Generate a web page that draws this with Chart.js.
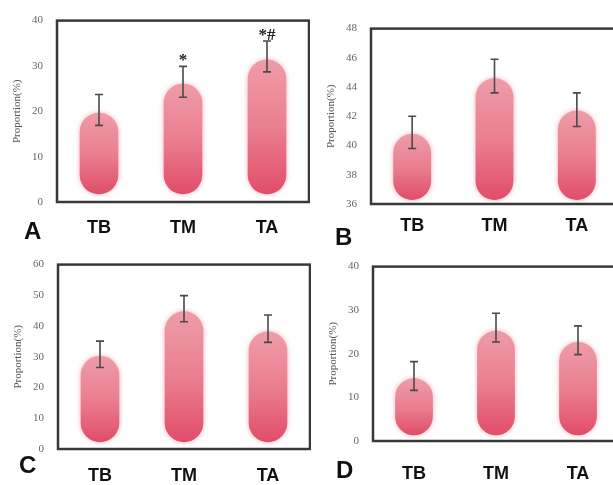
<!DOCTYPE html>
<html>
<head>
<meta charset="utf-8">
<script src="https://cdn.jsdelivr.net/npm/chart.js@4.4.0/dist/chart.umd.min.js"></script>
<style>
  html, body { margin: 0; padding: 0; background: #fff; overflow: hidden; width: 613px; height: 485px; position: relative; }
  canvas { position: absolute; }
  .tag { position: absolute; font: bold 24px "Liberation Sans", Arial, sans-serif; color: #111; line-height: 1; }
</style>
</head>
<body>
<canvas id="chartA" width="310" height="242" style="left:0px;top:0px"></canvas>
<canvas id="chartB" width="305" height="236" style="left:314px;top:8px"></canvas>
<canvas id="chartC" width="310" height="245" style="left:1px;top:244px"></canvas>
<canvas id="chartD" width="304" height="235" style="left:316px;top:246px"></canvas>
<div class="tag" style="left:24px;top:219px">A</div>
<div class="tag" style="left:335px;top:225px">B</div>
<div class="tag" style="left:19px;top:453px">C</div>
<div class="tag" style="left:336px;top:458px">D</div>
<script>
// categories shared by all four panels
const groups = ['TB', 'TM', 'TA'];

// panel A
const aValues = [19.7, 26.1, 31.4];
const aLow = [16.9, 23.1, 28.7];
const aHigh = [23.7, 29.9, 35.5];
const aMarks = ['', '*', '*#'];
const aTicks = [0, 10, 20, 30, 40];

// panel B
const bValues = [40.8, 44.6, 42.4];
const bLow = [39.8, 43.6, 41.3];
const bHigh = [42.0, 45.9, 43.6];
const bTicks = [36, 38, 40, 42, 44, 46, 48];

// panel C
const cValues = [30.3, 44.8, 38.2];
const cLow = [26.5, 41.4, 34.7];
const cHigh = [35.1, 49.9, 43.6];
const cTicks = [0, 10, 20, 30, 40, 50, 60];

// panel D
const dValues = [14.4, 25.3, 22.7];
const dLow = [11.6, 22.7, 19.8];
const dHigh = [18.2, 29.3, 26.4];
const dTicks = [0, 10, 20, 30, 40];

// soft pink glow around the pills
const glow = {
  id: 'glow',
  beforeDatasetDraw(chart) {
    const ctx = chart.ctx;
    ctx.save();
    ctx.shadowColor = 'rgba(240, 110, 130, 0.55)';
    ctx.shadowBlur = 5;
  },
  afterDatasetDraw(chart) {
    chart.ctx.restore();
  }
};

// error bars, significance marks and the frame
const extras = {
  id: 'extras',
  afterDatasetsDraw(chart, args, opts) {
    const ctx = chart.ctx;
    const y = chart.scales.y;
    const bars = chart.getDatasetMeta(0).data;
    ctx.save();
    ctx.strokeStyle = '#4a4a4a';
    ctx.lineWidth = 1.6;
    bars.forEach((bar, i) => {
      const top = y.getPixelForValue(opts.high[i]);
      const bot = y.getPixelForValue(opts.low[i]);
      ctx.beginPath();
      ctx.moveTo(bar.x, top); ctx.lineTo(bar.x, bot);
      ctx.moveTo(bar.x - 4, top); ctx.lineTo(bar.x + 4, top);
      ctx.moveTo(bar.x - 4, bot); ctx.lineTo(bar.x + 4, bot);
      ctx.stroke();
      if (opts.marks && opts.marks[i]) {
        ctx.fillStyle = '#222';
        ctx.font = 'bold 17px "Liberation Serif", serif';
        ctx.textAlign = 'center';
        ctx.textBaseline = 'alphabetic';
        ctx.fillText(opts.marks[i], bar.x, top - 1);
      }
    });
    const a = chart.chartArea;
    ctx.strokeStyle = '#383838';
    ctx.lineWidth = 2.5;
    ctx.strokeRect(a.left, a.top, a.right - a.left, a.bottom - a.top);
    ctx.restore();
  }
};

function pillColor(context) {
  const chart = context.chart;
  const area = chart.chartArea;
  if (!area || !chart.scales.y) return '#e8707f';
  const ds = context.dataset;
  const yTop = chart.scales.y.getPixelForValue(ds.data[context.dataIndex]);
  const yBot = chart.scales.y.getPixelForValue(ds.base);
  const g = chart.ctx.createLinearGradient(0, yTop, 0, yBot);
  g.addColorStop(0, '#ef9ca8');
  g.addColorStop(0.5, '#ea7f90');
  g.addColorStop(1, '#e14d68');
  return g;
}

function makePanel(id, values, low, high, ticks, marks, base, labelPad) {
  const ctx = document.getElementById(id).getContext('2d');
  return new Chart(ctx, {
    type: 'bar',
    data: {
      labels: groups,
      datasets: [{
        data: values,
        base: base,
        backgroundColor: pillColor,
        borderWidth: 0,
        borderRadius: 100,
        borderSkipped: false,
        barPercentage: 0.46,
        categoryPercentage: 1
      }]
    },
    options: {
      responsive: false,
      animation: false,
      layout: { padding: { top: 15, right: 1, left: 0, bottom: 0 } },
      plugins: {
        legend: { display: false },
        tooltip: { enabled: false },
        extras: { low: low, high: high, marks: marks }
      },
      scales: {
        x: {
          grid: { display: false, drawTicks: false },
          border: { display: false },
          ticks: {
            color: '#111',
            padding: labelPad,
            font: { family: '"Liberation Sans", Arial, sans-serif', size: 18, weight: 'bold' }
          },
          afterFit: s => { s.height = 40; }
        },
        y: {
          min: ticks[0],
          max: ticks[ticks.length - 1],
          afterBuildTicks: s => { s.ticks = ticks.map(v => ({ value: v })); },
          grid: { display: false, drawTicks: false },
          border: { display: false },
          ticks: {
            color: '#666',
            padding: 14,
            font: { family: '"Liberation Serif", serif', size: 11 }
          },
          title: {
            display: true,
            text: 'Proportion(%)',
            color: '#555',
            padding: { top: 11, bottom: 0 },
            font: { family: '"Liberation Serif", serif', size: 11 }
          },
          afterFit: s => { s.width = 57; }
        }
      }
    },
    plugins: [glow, extras]
  });
}

makePanel('chartA', aValues, aLow, aHigh, aTicks, aMarks, 1.7, 15);
makePanel('chartB', bValues, bLow, bHigh, bTicks, null, 36.27, 11);
makePanel('chartC', cValues, cLow, cHigh, cTicks, null, 2.2, 16);
makePanel('chartD', dValues, dLow, dHigh, dTicks, null, 1.3, 22);
</script>
</body>
</html>
